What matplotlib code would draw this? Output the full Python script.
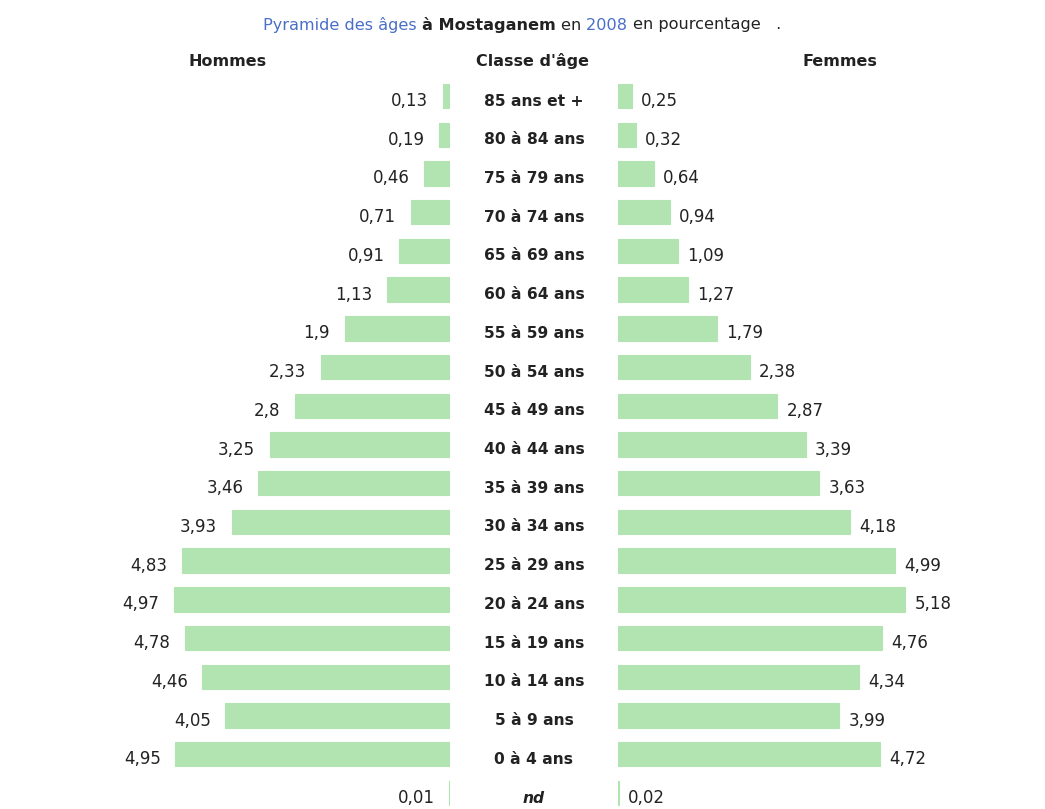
import matplotlib
matplotlib.use('Agg')
import matplotlib.pyplot as plt
from matplotlib.transforms import blended_transform_factory

plt.rcParams['font.family'] = ['DejaVu Sans']

# top -> bottom as in the table
classes = ['85 ans et +', '80 à 84 ans', '75 à 79 ans', '70 à 74 ans', '65 à 69 ans',
           '60 à 64 ans', '55 à 59 ans', '50 à 54 ans', '45 à 49 ans', '40 à 44 ans',
           '35 à 39 ans', '30 à 34 ans', '25 à 29 ans', '20 à 24 ans', '15 à 19 ans',
           '10 à 14 ans', '5 à 9 ans', '0 à 4 ans', 'nd']
hommes = [0.13, 0.19, 0.46, 0.71, 0.91, 1.13, 1.9, 2.33, 2.8, 3.25, 3.46, 3.93,
          4.83, 4.97, 4.78, 4.46, 4.05, 4.95, 0.01]
femmes = [0.25, 0.32, 0.64, 0.94, 1.09, 1.27, 1.79, 2.38, 2.87, 3.39, 3.63, 4.18,
          4.99, 5.18, 4.76, 4.34, 3.99, 4.72, 0.02]

GREEN = '#b2e4b2'
TXT = '#222222'
BLUE = '#4a6fc8'

W, H = 1045, 809
fig = plt.figure(figsize=(W / 100, H / 100), dpi=100)

n = len(classes)
ypos = list(range(n - 1, -1, -1))
xmax = 350 / 55.5
bottom = 0.5 / H
height = (808.5 - 72.8) / H

axL = fig.add_axes([100 / W, bottom, 350 / W, height])
axR = fig.add_axes([618 / W, bottom, 350 / W, height])

for ax, vals in ((axL, hommes), (axR, femmes)):
    ax.barh(ypos, vals, height=0.63, color=GREEN, edgecolor=GREEN, linewidth=0.8)
    ax.set_ylim(-0.4, 18.6)
    ax.axis('off')
axL.set_xlim(xmax, 0)
axR.set_xlim(0, xmax)

DY = -3.6  # labels sit a little below the bar centre
for y, v in zip(ypos, hommes):
    axL.annotate(f"{v:g}".replace('.', ','), (v, y), xytext=(-10.5, DY),
                 textcoords='offset points', ha='right', va='center',
                 fontsize=12, color=TXT)
for y, v in zip(ypos, femmes):
    axR.annotate(f"{v:g}".replace('.', ','), (v, y), xytext=(6.5, DY),
                 textcoords='offset points', ha='left', va='center',
                 fontsize=12, color=TXT)

tr = blended_transform_factory(fig.transFigure, axL.transData)
for y, c in zip(ypos, classes):
    style = 'italic' if c == 'nd' else 'normal'
    axL.annotate(c, (534 / W, y), xycoords=tr, xytext=(0, DY),
                 textcoords='offset points', ha='center', va='center',
                 fontsize=11.2, fontweight='bold', style=style, color=TXT)

# column headers
hy = 1 - 61 / H
fig.text(228 / W, hy, 'Hommes', ha='center', va='center', fontsize=11.5, fontweight='bold', color=TXT)
fig.text(533 / W, hy, "Classe d'âge", ha='center', va='center', fontsize=11.5, fontweight='bold', color=TXT)
fig.text(840 / W, hy, 'Femmes', ha='center', va='center', fontsize=11.5, fontweight='bold', color=TXT)

# title made of coloured pieces
pieces = [('Pyramide des âges ', BLUE, 'normal'),
          ('à Mostaganem ', TXT, 'bold'),
          ('en ', TXT, 'normal'),
          ('2008 ', BLUE, 'normal'),
          ('en pourcentage   .', TXT, 'normal')]
renderer = fig.canvas.get_renderer()
x = 263
ty = 1 - 25 / H
for s, col, fw in pieces:
    t = fig.text(x / W, ty, s, ha='left', va='center', fontsize=11.6,
                 color=col, fontweight=fw)
    bb = t.get_window_extent(renderer=renderer)
    x += bb.width

fig.savefig('out.png', dpi=100, facecolor='white')
